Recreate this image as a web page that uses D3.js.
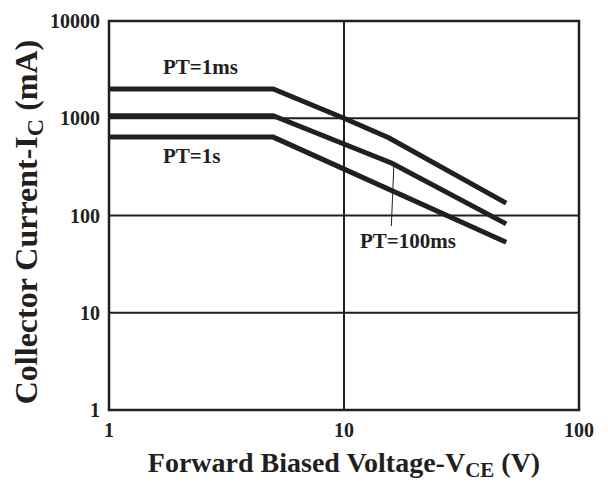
<html>
<head>
<meta charset="utf-8">
<script src="https://d3js.org/d3.v7.min.js"></script>
<style>
  body { margin: 0; background: #fff; }
  text { font-family: "Liberation Serif", "Times New Roman", serif; font-weight: bold; fill: #231f20; }
</style>
</head>
<body>
<div id="chart"></div>
<script>
// data (V in volts, I in mA)
const xTicks = [1, 10, 100];
const yTicks = [1, 10, 100, 1000, 10000];
const seriesNames = ["PT=1ms", "PT=100ms", "PT=1s"];
const pt1msV = [1, 5, 10, 15.5, 49];
const pt1msI = [2000, 2000, 1000, 630, 134];
const pt100msV = [1, 5, 16, 49];
const pt100msI = [1060, 1060, 345, 82];
const pt1sV = [1, 5, 49];
const pt1sI = [640, 640, 53];

const margin = {top: 21, right: 29, bottom: 77, left: 109},
  width = 608 - margin.left - margin.right,
  height = 487 - margin.top - margin.bottom;

const svg = d3.select("#chart").append("svg")
  .attr("width", 608).attr("height", 487);
const g = svg.append("g")
  .attr("transform", `translate(${margin.left}, ${margin.top})`);

const x = d3.scaleLog().domain([1, 100]).range([0, width]);
const y = d3.scaleLog().domain([1, 10000]).range([height, 0]);

// grid
g.selectAll(".gx").data([10]).join("line")
  .attr("x1", d => x(d)).attr("x2", d => x(d))
  .attr("y1", 0).attr("y2", height)
  .attr("stroke", "#231f20").attr("stroke-width", 2);
g.selectAll(".gy").data([10, 100, 1000]).join("line")
  .attr("y1", d => y(d)).attr("y2", d => y(d))
  .attr("x1", 0).attr("x2", width)
  .attr("stroke", "#231f20").attr("stroke-width", 2);

// frame
g.append("rect").attr("width", width).attr("height", height)
  .attr("fill", "none").attr("stroke", "#231f20").attr("stroke-width", 2.5);

// tick labels
g.selectAll(".ty").data(yTicks).join("text")
  .attr("x", -9).attr("y", d => y(d) + 7)
  .attr("text-anchor", "end").style("font-size", "20px")
  .text(d => d);
g.selectAll(".tx").data(xTicks).join("text")
  .attr("x", d => x(d)).attr("y", height + 27)
  .attr("text-anchor", "middle").style("font-size", "20px")
  .text(d => d);

// curves
const line = d3.line().x(d => x(d[0])).y(d => y(d[1]));
const series = [
  d3.zip(pt1msV, pt1msI),
  d3.zip(pt100msV, pt100msI),
  d3.zip(pt1sV, pt1sI)
];
g.selectAll(".curve").data(series).join("path")
  .attr("d", line)
  .attr("fill", "none").attr("stroke", "#231f20")
  .attr("stroke-width", 5).attr("stroke-linejoin", "miter");

// labels
g.append("text").attr("x", 163 - margin.left).attr("y", 74 - margin.top)
  .style("font-size", "21px").text(seriesNames[0]);
g.append("text").attr("x", 163 - margin.left).attr("y", 163 - margin.top)
  .style("font-size", "21px").text(seriesNames[2]);
g.append("text").attr("x", 360 - margin.left).attr("y", 248 - margin.top)
  .style("font-size", "21px").text(seriesNames[1]);
// leader line for PT=100ms
g.append("line")
  .attr("x1", x(16.3)).attr("y1", y(330))
  .attr("x2", x(15.9)).attr("y2", 226 - margin.top)
  .attr("stroke", "#231f20").attr("stroke-width", 1);

// axis titles
const xt = svg.append("text").attr("x", 344).attr("y", 472)
  .attr("text-anchor", "middle").style("font-size", "28px");
xt.append("tspan").text("Forward Biased Voltage-V");
xt.append("tspan").attr("dy", 5).style("font-size", "21px").text("CE");
xt.append("tspan").attr("dy", -5).text(" (V)");

const yt = svg.append("text")
  .attr("transform", "translate(37, 222) rotate(-90)")
  .attr("text-anchor", "middle").style("font-size", "32px");
yt.append("tspan").text("Collector Current-I");
yt.append("tspan").attr("dy", 6).style("font-size", "24px").text("C");
yt.append("tspan").attr("dy", -6).text(" (mA)");
</script>
</body>
</html>
